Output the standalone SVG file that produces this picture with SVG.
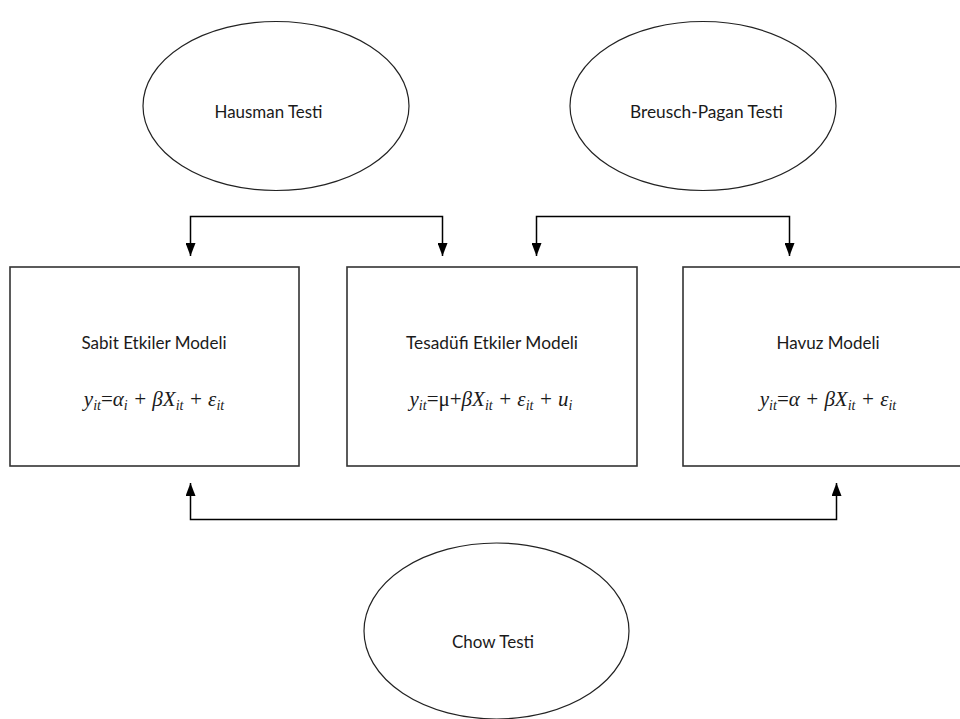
<svg xmlns="http://www.w3.org/2000/svg" width="960" height="719" viewBox="0 0 960 719">
  <defs>
    <marker id="ah" viewBox="0 0 13 10" refX="13" refY="5" markerWidth="13" markerHeight="10" markerUnits="userSpaceOnUse" orient="auto-start-reverse">
      <path d="M0,0 L13,5 L0,10 Z" fill="#000"/>
    </marker>
    <style>
      .box { fill: #fff; stroke: #333; stroke-width: 1.6; }
      .ell { fill: #fff; stroke: #222; stroke-width: 1.2; }
      .lbl { font-family: Lato, "Open Sans", "Liberation Sans", sans-serif; font-size: 18px; fill: #1a1a1a; text-anchor: middle; }
      .math { font-family: "Liberation Serif", "DejaVu Serif", serif; font-size: 21px; fill: #1a1a1a; text-anchor: middle; font-style: italic; }
      .sub { font-size: 14px; }
      .up { font-style: normal; }
      .conn { fill: none; stroke: #000; stroke-width: 1.5; marker-start: url(#ah); marker-end: url(#ah); }
    </style>
  </defs>
  <rect width="960" height="719" fill="#fff"/>

  <g id="connectors">
    <path class="conn" d="M190.5,256 V216.5 H442.5 V256"/>
    <path class="conn" d="M536.5,256 V216.5 H789.5 V256"/>
    <path class="conn" d="M190.5,483 V519.5 H836.5 V483"/>
  </g>

  <g id="hausman">
    <ellipse class="ell" cx="276" cy="106" rx="133" ry="84.5"/>
    <text class="lbl" x="268.5" y="118" textLength="108" lengthAdjust="spacingAndGlyphs">Hausman Testi</text>
  </g>

  <g id="breusch-pagan">
    <ellipse class="ell" cx="703" cy="106" rx="133" ry="84.5"/>
    <text class="lbl" x="706.5" y="118" textLength="153" lengthAdjust="spacingAndGlyphs">Breusch-Pagan Testi</text>
  </g>

  <g id="chow">
    <ellipse class="ell" cx="496.5" cy="631" rx="132.5" ry="88"/>
    <text class="lbl" x="493" y="648" textLength="82" lengthAdjust="spacingAndGlyphs">Chow Testi</text>
  </g>

  <g id="sabit">
    <rect class="box" x="10" y="267" width="289" height="199"/>
    <text class="lbl" x="154" y="349" textLength="145" lengthAdjust="spacingAndGlyphs">Sabit Etkiler Modeli</text>
    <text class="math" x="154" y="406">y<tspan class="sub" dy="4">it</tspan><tspan class="up" dy="-4">=</tspan>α<tspan class="sub" dy="4">i</tspan><tspan dy="-4"> + βX</tspan><tspan class="sub" dy="4">it</tspan><tspan dy="-4"> + ε</tspan><tspan class="sub" dy="4">it</tspan></text>
  </g>

  <g id="tesadufi">
    <rect class="box" x="347" y="267" width="290" height="199"/>
    <text class="lbl" x="492" y="349" textLength="172" lengthAdjust="spacingAndGlyphs">Tesadüfi Etkiler Modeli</text>
    <text class="math" x="491" y="406">y<tspan class="sub" dy="4">it</tspan><tspan class="up" dy="-4">=μ+</tspan>βX<tspan class="sub" dy="4">it</tspan><tspan dy="-4"> + ε</tspan><tspan class="sub" dy="4">it</tspan><tspan dy="-4"> + u</tspan><tspan class="sub" dy="4">i</tspan></text>
  </g>

  <g id="havuz">
    <rect class="box" x="683" y="267" width="290" height="199"/>
    <text class="lbl" x="828" y="349" textLength="103" lengthAdjust="spacingAndGlyphs">Havuz Modeli</text>
    <text class="math" x="828" y="406">y<tspan class="sub" dy="4">it</tspan><tspan class="up" dy="-4">=</tspan>α + βX<tspan class="sub" dy="4">it</tspan><tspan dy="-4"> + ε</tspan><tspan class="sub" dy="4">it</tspan></text>
  </g>
</svg>
